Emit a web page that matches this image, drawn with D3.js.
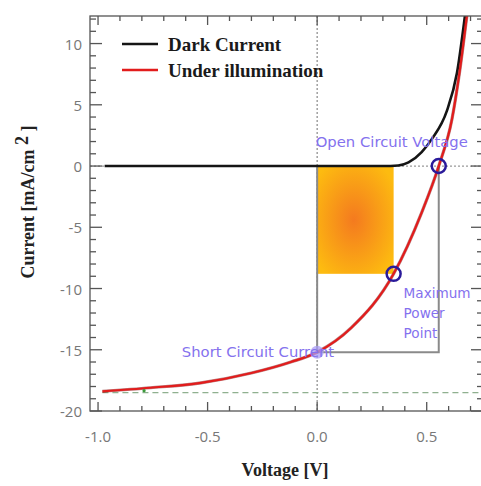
<!DOCTYPE html>
<html>
<head>
<meta charset="utf-8">
<script src="https://cdn.jsdelivr.net/npm/d3@7"></script>
<style>
  body { margin: 0; background: #fff; }
  svg { display: block; }
</style>
</head>
<body>
<svg width="481" height="486"></svg>
<script>
// data
var darkV = [-0.97, -0.5, 0, 0.3, 0.37, 0.417, 0.477, 0.523, 0.592, 0.638, 0.674, 0.7];
var darkI = [0, 0, 0, 0, 0.05, 0.3, 1.14, 2.2, 4.5, 7.6, 12.2, 16];
var lightV = [-0.98, -0.76, -0.53, -0.30, -0.12, 0, 0.156, 0.349, 0.477, 0.555, 0.615, 0.651, 0.683, 0.71];
var lightI = [-18.4, -18.1, -17.7, -16.9, -16.0, -15.2, -13.2, -8.8, -3.8, 0, 3.8, 7.8, 12.2, 16];
var xTicks = [-1.0, -0.5, 0.0, 0.5];
var yTicks = [10, 5, 0, -5, -10, -15, -20];
var vOC = 0.555, iSC = -15.2;
var vMP = 0.349, iMP = -8.8;
var iSat = -18.5;
var legendNames = ["Dark Current", "Under illumination"];

var svg = d3.select("svg");
var margin = {top: 16, right: -2, bottom: 75, left: 90};
var width = +svg.attr("width") - margin.left - margin.right,
    height = +svg.attr("height") - margin.top - margin.bottom;

var g = svg.append("g").attr("transform", "translate(" + margin.left + "," + margin.top + ")");

// scales
var x = d3.scaleLinear().domain([-1.0367, 0.7569]).range([0, width]);
var y = d3.scaleLinear().domain([-20, 12.25]).range([height, 0]);

g.append("clipPath").attr("id", "clip")
  .append("rect").attr("width", width).attr("height", height);

var plot = g.append("g").attr("clip-path", "url(#clip)");

// gradient for the power rectangle
var grad = svg.append("defs").append("radialGradient")
  .attr("id", "pow").attr("cx", "48%").attr("cy", "50%").attr("r", "62%");
grad.append("stop").attr("offset", "0%").attr("stop-color", "#f47a1f");
grad.append("stop").attr("offset", "100%").attr("stop-color", "#fdbb10");

plot.append("rect")
  .attr("x", x(0)).attr("y", y(0))
  .attr("width", x(vMP) - x(0)).attr("height", y(iMP) - y(0))
  .attr("fill", "url(#pow)");

// zero lines (dotted)
plot.append("line")
  .attr("x1", x(0)).attr("x2", x(0)).attr("y1", 0).attr("y2", height)
  .attr("stroke", "#888").attr("stroke-width", 1.2).attr("stroke-dasharray", "2,2");
plot.append("line")
  .attr("x1", 0).attr("x2", width).attr("y1", y(0)).attr("y2", y(0))
  .attr("stroke", "#999").attr("stroke-width", 1.2).attr("stroke-dasharray", "2,2");

// saturation current (green dashed)
plot.append("line")
  .attr("x1", x(-0.98)).attr("x2", width).attr("y1", y(iSat)).attr("y2", y(iSat))
  .attr("stroke", "#8fb08f").attr("stroke-width", 1.2).attr("stroke-dasharray", "6,4");

// Voc / Isc box
plot.append("path")
  .attr("d", "M" + x(0) + "," + y(0) + "V" + y(iSC) + "H" + x(vOC) + "V" + y(0))
  .attr("fill", "none").attr("stroke", "#8a8a8a").attr("stroke-width", 2);

// curves
var line = d3.line()
  .x(function(d) { return x(d[0]); })
  .y(function(d) { return y(d[1]); })
  .curve(d3.curveMonotoneX);

var dark = darkV.map(function(v, i) { return [v, darkI[i]]; });
var light = lightV.map(function(v, i) { return [v, lightI[i]]; });

plot.append("path").datum(dark)
  .attr("fill", "none").attr("stroke", "#151515").attr("stroke-width", 2.6)
  .attr("d", line);
plot.append("path").datum(light)
  .attr("fill", "none").attr("stroke", "#7a1010").attr("stroke-width", 3.2)
  .attr("stroke-opacity", 0.5).attr("d", line);
plot.append("path").datum(light)
  .attr("fill", "none").attr("stroke", "#e21c1c").attr("stroke-width", 2.2)
  .attr("d", line);

// small green marker on the saturation line
plot.append("circle").attr("cx", x(-0.79)).attr("cy", y(iSat) - 2).attr("r", 1.6).attr("fill", "#3a9a3a");

// points
plot.append("circle").attr("cx", x(0)).attr("cy", y(iSC)).attr("r", 6.5)
  .attr("fill", "#a99cf6").attr("fill-opacity", 0.75);
[[vOC, 0], [vMP, iMP]].forEach(function(p) {
  plot.append("circle").attr("cx", x(p[0])).attr("cy", y(p[1])).attr("r", 7)
    .attr("fill", "none").attr("stroke", "#2a1a9a").attr("stroke-width", 2.5);
});

// annotation labels
var purple = "#8471ee";
var ann = g.append("g").attr("font-family", "'DejaVu Sans', Verdana, sans-serif")
  .attr("fill", purple);
ann.append("text").attr("x", x(vOC) - 47).attr("y", y(0) - 19).attr("text-anchor", "middle")
  .attr("font-size", 14.8).text("Open Circuit Voltage");
ann.append("text").attr("x", x(0) + 17).attr("y", y(iSC) + 5).attr("text-anchor", "end")
  .attr("font-size", 14.8).text("Short Circuit Current");
["Maximum", "Power", "Point"].forEach(function(t, i) {
  ann.append("text").attr("x", x(vMP) + 10).attr("y", y(iMP) + 24 + i * 20)
    .attr("font-size", 13.6).text(t);
});

// frame and ticks
var frame = g.append("g").attr("stroke", "#555").attr("stroke-width", 1.3);
frame.append("rect").attr("width", width).attr("height", height).attr("fill", "none");

var xMinor = d3.range(-10, 8).map(function(d) { return d / 10; });
var yMinor = d3.range(-20, 13);
xMinor.forEach(function(v) {
  var major = Math.abs(v * 2 - Math.round(v * 2)) < 1e-6;
  var len = major ? 9 : 5;
  frame.append("line").attr("x1", x(v)).attr("x2", x(v)).attr("y1", height).attr("y2", height - len);
  frame.append("line").attr("x1", x(v)).attr("x2", x(v)).attr("y1", 0).attr("y2", len);
});
yMinor.forEach(function(v) {
  var len = v % 5 === 0 ? 12 : 6;
  frame.append("line").attr("x1", 0).attr("x2", len).attr("y1", y(v)).attr("y2", y(v));
  frame.append("line").attr("x1", width).attr("x2", width - len).attr("y1", y(v)).attr("y2", y(v));
});

// tick labels
var tickFont = "'Open Sans', 'DejaVu Sans', sans-serif";
g.selectAll(".xt").data(xTicks).enter().append("text")
  .attr("x", function(d) { return x(d); }).attr("y", height + 31)
  .attr("text-anchor", "middle").attr("font-family", tickFont).attr("font-size", 15)
  .attr("fill", "#777").text(function(d) { return d.toFixed(1); });
g.selectAll(".yt").data(yTicks).enter().append("text")
  .attr("x", -8).attr("y", function(d) { return y(d) + 6; })
  .attr("text-anchor", "end").attr("font-family", tickFont).attr("font-size", 15)
  .attr("fill", "#777").text(function(d) { return d; });

// axis titles
var serif = "'Liberation Serif', 'Times New Roman', serif";
svg.append("text").attr("x", 285).attr("y", 476).attr("text-anchor", "middle")
  .attr("font-family", serif).attr("font-weight", "bold").attr("font-size", 18)
  .attr("fill", "#222").text("Voltage [V]");
var yl = svg.append("text").attr("transform", "translate(34,202) rotate(-90)")
  .attr("text-anchor", "middle").attr("font-family", serif).attr("font-weight", "bold")
  .attr("font-size", 18).attr("fill", "#222");
yl.append("tspan").text("Current [mA/cm ");
yl.append("tspan").attr("dy", -6).text("2");
yl.append("tspan").attr("dy", 6).text(" ]");

// legend
var leg = svg.append("g").attr("transform", "translate(122,44)");
legendNames.forEach(function(name, i) {
  leg.append("line").attr("x1", 0).attr("x2", 36).attr("y1", i * 26).attr("y2", i * 26)
    .attr("stroke", i === 0 ? "#151515" : "#e21c1c").attr("stroke-width", 2.6);
  leg.append("text").attr("x", 46).attr("y", i * 26 + 7)
    .attr("font-family", serif).attr("font-weight", "bold").attr("font-size", 19)
    .attr("fill", "#1a1a1a").text(name);
});
</script>
</body>
</html>
